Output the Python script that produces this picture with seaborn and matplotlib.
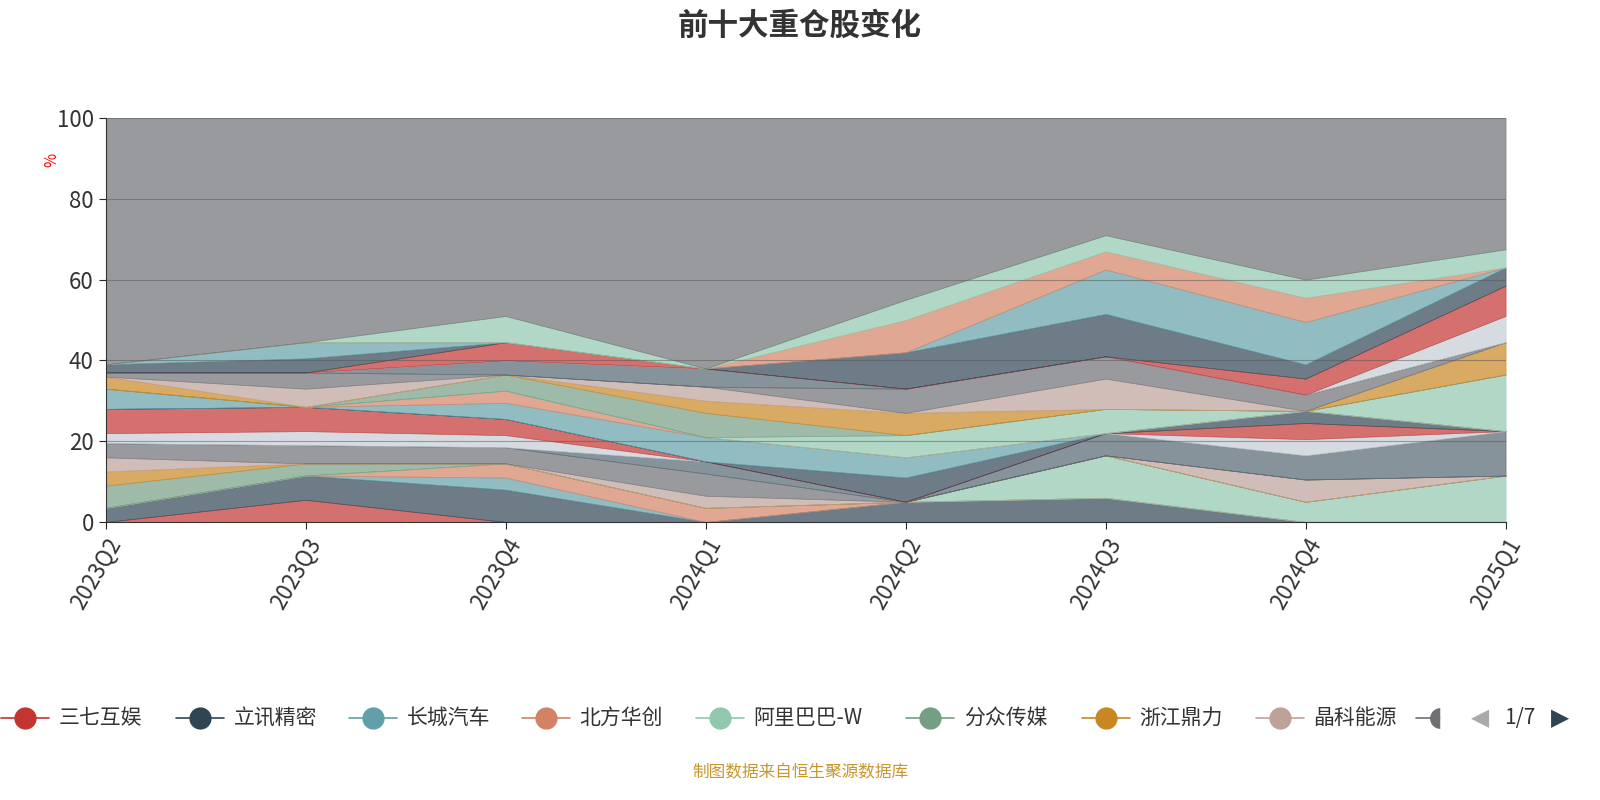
import numpy as np
import matplotlib.pyplot as plt
import seaborn as sns
from matplotlib.lines import Line2D

quarters = ['2023Q2', '2023Q3', '2023Q4', '2024Q1', '2024Q2', '2024Q3', '2024Q4', '2025Q1']
names = ['三七互娱', '立讯精密', '长城汽车', '北方华创', '阿里巴巴-W', '分众传媒', '浙江鼎力', '晶科能源',
         '腾讯控股', '美的集团', '宁德时代', '比亚迪', '中际旭创', '贵州茅台', '紫金矿业', '海康威视',
         '恒瑞医药', '迈瑞医疗', '招商银行', '工业富联', '中国移动', '东方财富', '隆基绿能', '万华化学',
         '药明康德', '泡泡玛特', '小米集团-W']
values = [
    [0, 5.5, 0, 0, 0, 0, 0, 0],
    [3.5, 6, 8, 0, 5, 6, 0, 0],
    [0, 0, 3, 0, 0, 0, 0, 0],
    [0, 0, 3.5, 3.5, 0, 0, 0, 0],
    [0, 0, 0, 0, 0, 10.5, 5, 11.5],
    [5.5, 3, 0, 0, 0, 0, 0, 0],
    [3.5, 0, 0, 0, 0, 0, 0, 0],
    [3.5, 0, 0, 3, 0, 0, 5.5, 0],
    [3.5, 4.5, 4, 5.5, 0, 0, 0, 0],
    [0, 0, 0, 3, 0, 5.5, 6, 11],
    [2.5, 3.5, 3, 0, 0, 0, 4, 0],
    [6, 6, 4, 0, 0, 0, 4, 0],
    [0, 0, 0, 0, 6, 0, 3, 0],
    [5, 0, 4, 6, 5, 0, 0, 0],
    [0, 0, 3, 0, 0, 0, 0, 0],
    [0, 0, 0, 0, 5.5, 6, 0, 14],
    [0, 0, 4, 6, 0, 0, 0, 0],
    [3, 0, 0, 3, 5.5, 0, 0, 8],
    [0, 4.5, 0, 3.5, 0, 7.5, 0, 0],
    [1, 4, 0, 0, 6, 5.5, 4, 0],
    [0, 0, 3.5, 4.5, 0, 0, 0, 0],
    [0, 0, 0, 0, 0, 0, 0, 6.5],
    [0, 0, 4.5, 0, 0, 0, 4, 7.5],
    [2, 3.5, 0, 0, 9, 10.5, 3.5, 4.5],
    [0, 4, 0, 0, 0, 11, 10.5, 0],
    [0, 0, 0, 0, 8, 4.5, 6, 0],
    [0, 0, 6.5, 0, 5, 4, 4.5, 4.5],
]
other = 100 - np.array(values).sum(axis=0)

palette = ['#c23531', '#2f4554', '#61a0a8', '#d48265', '#91c7ae', '#749f83',
           '#ca8622', '#bda29a', '#6e7074', '#546570', '#c4ccd3']

sns.set_style('white')
plt.rcParams['font.family'] = ['Noto Sans CJK SC', 'DejaVu Sans']

fig = plt.figure(figsize=(16, 8), dpi=100)
ax = fig.add_axes([0.066, 0.3475, 0.875, 0.505])
x = np.arange(len(quarters))
cols = [palette[i % len(palette)] for i in range(len(values))] + ['#6e7074']
polys = ax.stackplot(x, *values, other, colors=cols, alpha=0.7)
for p, c in zip(polys, cols):
    p.set_edgecolor(c)
    p.set_linewidth(0.5)
ax.set_xlim(0, 7)
ax.set_ylim(0, 100)
ax.set_yticks([0, 20, 40, 60, 80, 100])
ax.yaxis.grid(True, color='#555555', alpha=0.5)
ax.set_axisbelow(False)
ax.set_xticks(x)
ax.set_xticklabels(quarters, rotation=60, ha='right', rotation_mode='anchor', fontsize=16, color='#333333')
ax.tick_params(axis='y', labelsize=16, labelcolor='#333333', length=5, left=True)
ax.tick_params(axis='x', length=5, bottom=True)
for s in ['top', 'right']:
    ax.spines[s].set_visible(False)
ax.spines['left'].set_color('#333333')
ax.spines['bottom'].set_color('#333333')
fig.text(0.027, 0.80, '%', color='red', fontsize=11, rotation=90, va='center')

fig.text(0.5, 0.968, '前十大重仓股变化', ha='center', va='center', fontsize=22, weight='bold', color='#333333')

leg_x = [25, 200, 373, 546, 720, 930, 1106, 1280]
for i, px in enumerate(leg_x):
    fx = px / 1600
    fig.add_artist(Line2D([fx - 0.015, fx + 0.015], [0.1025, 0.1025], color=palette[i], lw=1.2))
    fig.add_artist(Line2D([fx], [0.1025], marker='o', ms=15, color=palette[i]))
    fig.text(fx + 0.021, 0.1025, names[i], va='center', fontsize=15, color='#333333')
fx = 1440 / 1600
fig.add_artist(Line2D([fx - 0.015, fx], [0.1025, 0.1025], color=palette[8], lw=1.2))
fig.add_artist(Line2D([fx], [0.1025], marker='o', ms=15, color=palette[8], fillstyle='left',
                      markerfacecoloralt='white', markeredgewidth=0))
fig.text(1480 / 1600, 0.1025, '◀', color='#aaaaaa', fontsize=17, va='center', ha='center', family='DejaVu Sans')
fig.text(1520 / 1600, 0.1025, '1/7', color='#333333', fontsize=15, va='center', ha='center')
fig.text(1560 / 1600, 0.1025, '▶', color='#2f4554', fontsize=17, va='center', ha='center', family='DejaVu Sans')

fig.text(0.5, 0.034, '制图数据来自恒生聚源数据库', ha='center', va='center', fontsize=12, color='#c8962e')

fig.savefig('out.png', dpi=100)
